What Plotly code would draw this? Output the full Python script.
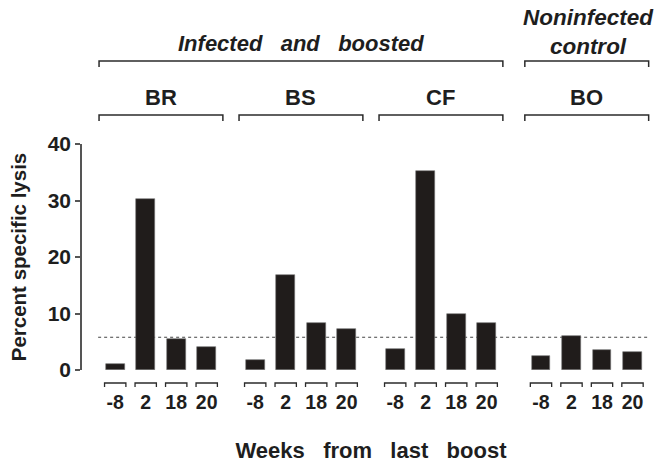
import plotly.graph_objects as go

# ---- data ----
groups = ["BR", "BS", "CF", "BO"]
weeks = ["-8", "2", "18", "20"]
lysis_BR = [1.0, 30.3, 5.5, 4.1]
lysis_BS = [1.7, 16.8, 8.4, 7.3]
lysis_CF = [3.7, 35.3, 10.0, 8.4]
lysis_BO = [2.4, 6.1, 3.5, 3.1]
threshold = 5.8
y_ticks = [0, 10, 20, 30, 40]
super_groups = ["<i>Infected\u00a0\u00a0\u00a0and\u00a0\u00a0\u00a0boosted</i>", "<i>Noninfected<br>control</i>"]

series = [lysis_BR, lysis_BS, lysis_CF, lysis_BO]

# ---- layout helpers ----
W, H = 669, 463
ML, MR, MT, MB = 82, 9, 144, 93
PH = H - MT - MB
GAPS = [1.59, 1.59, 1.78]  # extra spacing between groups (in slot units)
starts = [0.0]
for g in GAPS:
    starts.append(starts[-1] + 3 + g)

def py(pix):  # pixel y -> paper y
    return (H - MB - pix) / PH

FONT = "Arial, Liberation Sans, Helvetica, sans-serif"
TXT = "#1e1e1e"
BARC = "#201c1b"
LINEC = "#2b2b2b"

fig = go.Figure()
all_x, all_t = [], []
for gi, vals in enumerate(series):
    xs = [starts[gi] + i for i in range(len(vals))]
    all_x += xs
    all_t += weeks
    fig.add_trace(go.Bar(x=xs, y=vals, width=0.62, marker=dict(color=BARC, line=dict(color="#777", width=0.6)),
                         showlegend=False, name=groups[gi]))

shapes = []
# small brackets under each bar
for x in all_x:
    x0, x1 = x - 0.35, x + 0.35
    shapes.append(dict(type="path", xref="x", yref="paper",
                       path=f"M {x0} {py(387)} L {x0} {py(383)} L {x1} {py(383)} L {x1} {py(387)}",
                       line=dict(color=LINEC, width=1.3)))

def bracket(x0, x1, ytop, ybot):
    return dict(type="path", xref="x", yref="paper",
                path=f"M {x0} {py(ybot)} L {x0} {py(ytop)} L {x1} {py(ytop)} L {x1} {py(ybot)}",
                line=dict(color=LINEC, width=1.5))

ann = []
def label(x, ypix, text, size=22):
    ann.append(dict(x=x, y=py(ypix), xref="x", yref="paper", text=text, showarrow=False,
                    xanchor="center", yanchor="middle", font=dict(size=size, color=TXT, family=FONT)))

for gi, name in enumerate(groups):
    x0, x1 = starts[gi] - 0.53, starts[gi] + 3 + 0.53
    shapes.append(bracket(x0, x1, 115, 121))
    label((x0 + x1) / 2, 97, f"<b>{name}</b>")

# super group brackets
sx0, sx1 = starts[0] - 0.53, starts[2] + 3 + 0.53
shapes.append(bracket(sx0, sx1, 61, 67))
label((sx0 + sx1) / 2, 43.5, f"<b>{super_groups[0]}</b>")
bx0, bx1 = starts[3] - 0.53, starts[3] + 3 + 0.53
shapes.append(bracket(bx0, bx1, 61, 67))
label((bx0 + bx1) / 2 + 0.05, 32, f"<b>{super_groups[1]}</b>", size=22.5)

# threshold dotted line
shapes.append(dict(type="line", xref="x", yref="y", x0=starts[0] - 0.56, x1=starts[3] + 3 + 0.5,
                   y0=threshold, y1=threshold, line=dict(color="#444", width=1.2, dash="dot"), layer="below"))

px_per_unit = 30.5
xmin = -1.089
xmax = xmin + (W - ML - MR) / px_per_unit

fig.update_layout(
    width=W, height=H, margin=dict(l=ML, r=MR, t=MT, b=MB, autoexpand=False),
    paper_bgcolor="white", plot_bgcolor="white",
    shapes=shapes, annotations=ann, bargap=0,
    xaxis=dict(range=[xmin, xmax], tickvals=all_x, ticktext=all_t, ticks="", showline=False,
               showgrid=False, zeroline=False, automargin=False,
               tickfont=dict(size=19.5, color=TXT, family=FONT, weight="bold"), ticklabelstandoff=18,
               title=dict(text="<b>Weeks\u00a0\u00a0\u00a0from\u00a0\u00a0\u00a0last\u00a0\u00a0\u00a0boost</b>",
                          font=dict(size=22, color=TXT, family=FONT), standoff=31)),
    yaxis=dict(range=[0, 40], tickvals=y_ticks, ticks="outside", ticklen=5, tickwidth=1.5, tickcolor="#555",
               showline=True, linecolor="#555", linewidth=1.5, showgrid=False, zeroline=False, automargin=False,
               tickfont=dict(size=21, color=TXT, family=FONT, weight="bold"),
               title=dict(text="<b>Percent specific lysis</b>", font=dict(size=20.5, color=TXT, family=FONT), standoff=16)),
)

fig.write_html("out.html", config={"displayModeBar": False},
               post_script="document.body.style.margin='0px';document.body.style.padding='0px';")
